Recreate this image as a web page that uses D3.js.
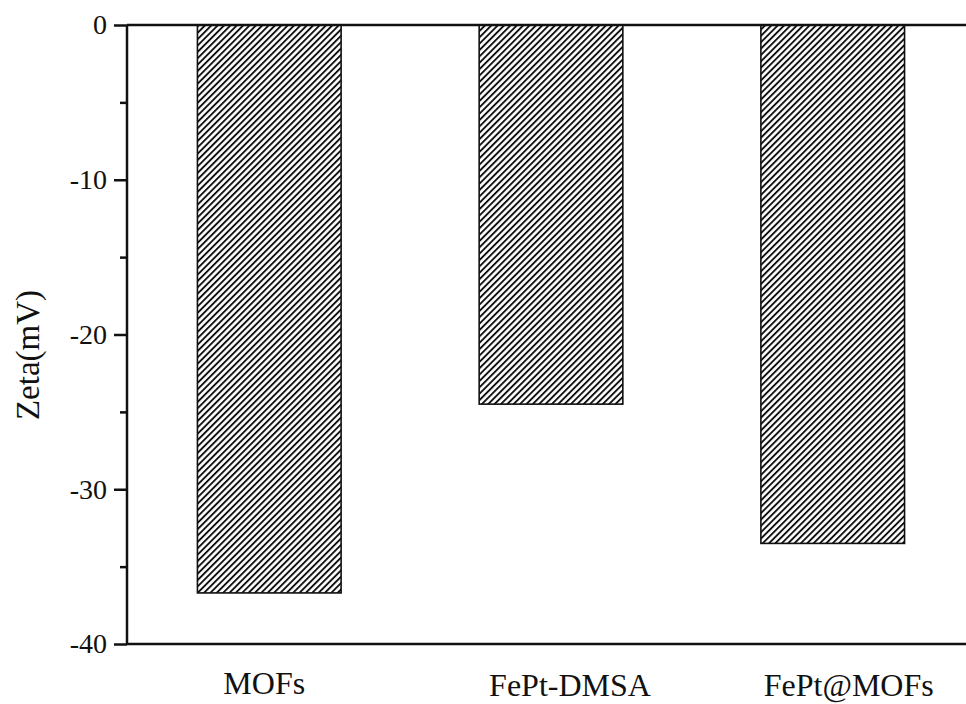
<!DOCTYPE html>
<html>
<head>
<meta charset="utf-8">
<script src="https://cdn.jsdelivr.net/npm/d3@7"></script>
<style>
  body { margin: 0; background: #fff; }
  text { font-family: "Liberation Serif", "Times New Roman", serif; fill: #111; }
</style>
</head>
<body>
<svg id="chart"></svg>
<script>
// data
const categories = ['MOFs', 'FePt-DMSA', 'FePt@MOFs'];
const zetaValues = [-36.7, -24.5, -33.5];
const majorTicks = [0, -10, -20, -30, -40];
const minorTicks = [-5, -15, -25, -35];

const width = 966, height = 704;
const margin = {top: 25, left: 127, bottom: 60};
const serif = '"Liberation Serif", "Times New Roman", serif';

const svg = d3.select('#chart')
    .attr('width', width)
    .attr('height', height);

// hatch pattern
const defs = svg.append('defs');
defs.append('pattern')
    .attr('id', 'hatch')
    .attr('patternUnits', 'userSpaceOnUse')
    .attr('width', 4.5)
    .attr('height', 4.5)
    .attr('patternTransform', 'rotate(45)')
  .append('rect')
    .attr('x', 0).attr('y', 0)
    .attr('width', 1.9).attr('height', 4.5)
    .attr('fill', '#111');

const xScale = d3.scaleBand()
    .domain(categories)
    .range([margin.left, 975])
    .paddingInner(0.49)
    .paddingOuter(0.25);

const yScale = d3.scaleLinear()
    .domain([-40, 0])
    .range([height - margin.bottom, margin.top]);

// bars
svg.selectAll('.bar')
    .data(categories)
  .join('rect')
    .attr('class', 'bar')
    .attr('x', d => xScale(d))
    .attr('width', xScale.bandwidth())
    .attr('y', yScale(0))
    .attr('height', (d, i) => yScale(zetaValues[i]) - yScale(0))
    .attr('fill', 'url(#hatch)')
    .attr('stroke', '#111')
    .attr('stroke-width', 1.6);

// y axis with major and minor ticks
const yAxis = d3.axisLeft(yScale)
    .tickValues(majorTicks)
    .tickSize(13)
    .tickPadding(7)
    .tickFormat(d => String(d));

const yAxisG = svg.append('g')
    .attr('transform', `translate(${margin.left},0)`)
    .call(yAxis)
    .call(g => g.select('.domain').remove());

yAxisG.selectAll('.tick line').attr('stroke', '#111').attr('stroke-width', 2.5);
yAxisG.selectAll('.tick text')
    .attr('fill', '#111')
    .style('font-family', serif)
    .style('font-size', '28px');

svg.append('g')
    .attr('transform', `translate(${margin.left},0)`)
    .call(d3.axisLeft(yScale).tickValues(minorTicks).tickSize(7).tickFormat(''))
    .call(g => g.select('.domain').remove())
    .selectAll('.tick line').attr('stroke', '#111').attr('stroke-width', 2.5);

svg.append('line')
    .attr('x1', margin.left).attr('x2', margin.left)
    .attr('y1', yScale(0)).attr('y2', yScale(-40))
    .attr('stroke', '#111').attr('stroke-width', 2.5);

// top (zero) and bottom axis lines
svg.append('line')
    .attr('x1', margin.left).attr('x2', width)
    .attr('y1', yScale(0)).attr('y2', yScale(0))
    .attr('stroke', '#111').attr('stroke-width', 2.5);

svg.append('line')
    .attr('x1', margin.left).attr('x2', width)
    .attr('y1', yScale(-40)).attr('y2', yScale(-40))
    .attr('stroke', '#111').attr('stroke-width', 2.5);

// category labels (slightly off-centre in the original)
const labelShift = [-5, 19, 16];
const labelBase = [694, 696, 696];
svg.selectAll('.cat-label')
    .data(categories)
  .join('text')
    .attr('class', 'cat-label')
    .attr('x', (d, i) => xScale(d) + xScale.bandwidth() / 2 + labelShift[i])
    .attr('y', (d, i) => labelBase[i])
    .attr('text-anchor', 'middle')
    .style('font-size', '32px')
    .text(d => d);

// y axis title
svg.append('text')
    .attr('transform', `translate(39,355) rotate(-90)`)
    .attr('text-anchor', 'middle')
    .style('font-size', '33px')
    .text('Zeta(mV)');
</script>
</body>
</html>
